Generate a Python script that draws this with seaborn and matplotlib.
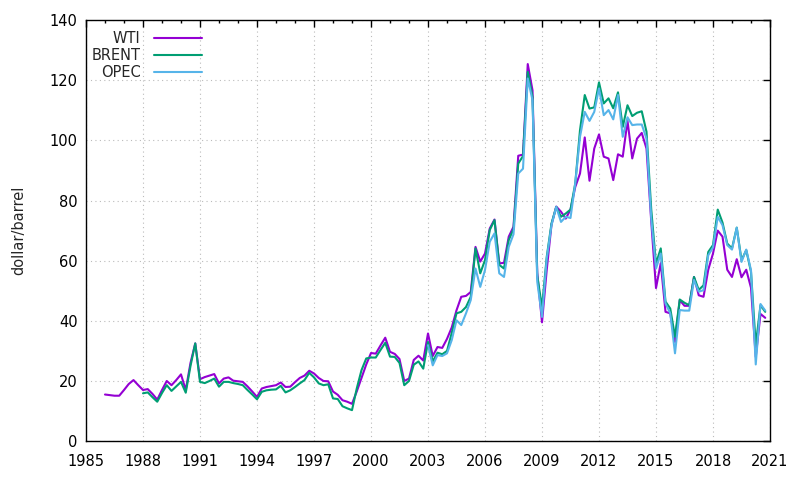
import matplotlib
matplotlib.use("Agg")
import matplotlib.pyplot as plt
from matplotlib.ticker import MultipleLocator
import seaborn as sns
import numpy as np
import pandas as pd

# quarterly prices, first quarter of each series given by its start year
wti_start = 1986.0
wti = [15.5, 15.3, 15.1, 15.1, 17.0, 19.0, 20.3, 18.6, 17.0, 17.3,
       15.7, 13.8, 17.0, 20.0, 18.6, 20.3, 22.2, 17.0, 26.0, 32.5,
       20.6, 21.3, 21.8, 22.3, 19.2, 20.8, 21.2, 20.1, 19.9, 19.7,
       18.2, 16.5, 14.7, 17.5, 18.0, 18.3, 18.6, 19.5, 18.0, 18.1,
       19.6, 21.0, 21.8, 23.4, 22.5, 21.0, 20.0, 19.9, 16.5, 15.4,
       13.6, 13.1, 12.4, 16.5, 21.0, 25.5, 29.3, 29.1, 31.8, 34.4,
       29.7, 29.0, 27.3, 20.0, 20.8, 27.0, 28.4, 26.8, 35.8, 28.3,
       31.3, 31.0, 34.0, 37.8, 43.5, 48.0, 48.3, 49.6, 64.6, 59.7,
       62.4, 70.7, 73.7, 59.1, 59.3, 68.0, 71.3, 94.9, 95.3, 125.4,
       116.7, 56.0, 39.5, 57.0, 72.0, 78.0, 76.3, 74.0, 77.0, 84.5,
       89.0, 101.0, 86.6, 97.3, 102.0, 94.6, 94.0, 86.8, 95.4, 94.6,
       106.5, 94.0, 100.6, 102.5, 97.3, 73.0, 50.9, 59.2, 43.0, 42.5,
       33.0, 46.9, 45.0, 45.0, 54.6, 48.5, 48.0, 57.0, 62.4, 70.0,
       68.0, 57.0, 54.6, 60.5, 54.5, 57.0, 51.0, 28.0, 42.3, 41.0]

brent_start = 1988.0
brent = [15.9, 16.2, 14.6, 13.1, 16.0, 18.6, 16.7, 18.2, 19.7, 16.1,
         25.0, 32.5, 19.7, 19.3, 20.0, 20.8, 18.1, 19.7, 19.7, 19.3,
         19.0, 18.6, 17.0, 15.5, 13.9, 16.4, 16.9, 17.1, 17.2, 18.4,
         16.2, 16.9, 18.0, 19.2, 20.3, 22.7, 21.2, 19.2, 18.6, 18.9,
         14.2, 14.0, 11.6, 10.9, 10.3, 17.5, 23.6, 27.5, 27.8, 27.8,
         30.3, 32.7, 28.1, 28.0, 26.0, 18.6, 20.0, 25.4, 26.5, 24.1,
         33.0, 26.5, 29.4, 28.9, 30.0, 36.0, 42.5, 43.0, 44.6, 48.0,
         64.1, 55.8, 60.2, 70.2, 73.5, 58.6, 57.4, 66.9, 70.5, 92.3,
         94.8, 122.8, 114.5, 55.0, 44.5, 61.3, 72.4, 77.9, 74.6, 75.7,
         77.0, 85.7, 103.4, 115.1, 110.6, 111.0, 119.3, 112.3, 114.0, 110.7,
         116.0, 104.5, 111.7, 108.1, 109.2, 109.7, 102.9, 77.0, 59.0, 64.1,
         46.4, 44.1, 34.7, 47.1, 46.0, 45.2, 54.6, 50.3, 51.8, 62.9,
         65.2, 77.0, 72.7, 65.7, 64.1, 71.0, 60.2, 63.5, 56.3, 32.0,
         45.2, 43.0]

opec_start = 2003.0
opec = [31.9, 25.2, 28.6, 28.3, 29.2, 33.6, 40.2, 38.6, 42.5, 46.9,
        57.4, 51.3, 56.9, 66.3, 69.1, 55.8, 54.6, 64.6, 68.8, 89.0,
        90.6, 120.6, 113.4, 53.0, 41.3, 60.7, 71.8, 77.9, 72.9, 74.6,
        74.2, 85.7, 101.2, 109.5, 106.5, 109.5, 117.3, 108.4, 110.1, 107.0,
        115.1, 101.2, 107.7, 105.1, 105.3, 105.3, 100.6, 74.0, 57.4, 62.4,
        45.8, 42.5, 29.2, 43.6, 43.4, 43.4, 53.6, 49.7, 50.2, 61.8,
        64.4, 74.6, 71.8, 65.2, 63.7, 71.0, 59.6, 63.7, 56.8, 25.5,
        45.6, 43.4]

series = [("WTI", wti_start, wti, "#9400d3"),
          ("BRENT", brent_start, brent, "#009e73"),
          ("OPEC", opec_start, opec, "#56b4e9")]


def make_frame(name, start, values):
    t = start + np.arange(len(values)) / 4.0
    return pd.DataFrame({"year": t, "price": values, "series": name})


sns.set_style("white")
plt.rcParams["font.family"] = ["DejaVu Sans"]
plt.rcParams["font.size"] = 10.5

fig = plt.figure(figsize=(8, 4.8), dpi=100)
ax = fig.add_axes([0.1075, 0.081, 0.855, 0.877])

for name, start, values, color in series:
    df = make_frame(name, start, values)
    sns.lineplot(data=df, x="year", y="price", ax=ax, color=color,
                 linewidth=1.5, label=name)

ax.set_xlim(1985, 2021)
ax.set_ylim(0, 140)
ax.set_xticks(np.arange(1985, 2022, 3))
ax.xaxis.set_minor_locator(MultipleLocator(1))
ax.set_yticks(np.arange(0, 141, 20))
ax.tick_params(which="both", direction="in", top=True, right=True,
               colors="black", labelsize=10.5)
ax.tick_params(which="major", length=5, width=1)
ax.tick_params(which="minor", length=2.5, width=1)
ax.tick_params(axis="x", pad=9)
ax.tick_params(axis="y", pad=6)
ax.grid(True, which="major", color="#bbbbbb", linestyle=(0, (1, 3)), linewidth=0.8)
for s in ax.spines.values():
    s.set_color("black")
    s.set_linewidth(1)
ax.set_xlabel("")
ax.set_ylabel("dollar/barrel")
ax.yaxis.set_label_coords(-0.087, 0.5)

leg = ax.legend(loc="upper left", bbox_to_anchor=(0.008, 0.975), markerfirst=False,
                frameon=False, handlelength=3.3, handletextpad=0.95,
                labelspacing=0.15, borderpad=0, borderaxespad=0, fontsize=10.5)

fig.savefig("out.png", dpi=100)
